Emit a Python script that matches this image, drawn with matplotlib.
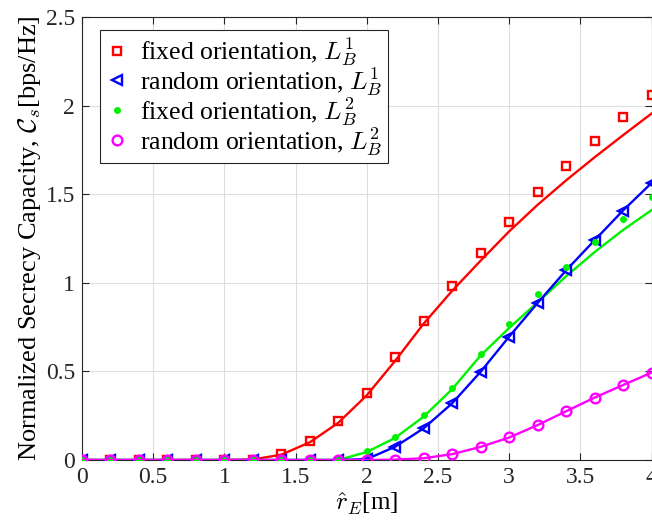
import matplotlib
matplotlib.use("Agg")
import matplotlib.pyplot as plt

# Secrecy capacity vs eavesdropper distance: lines = analysis, markers = simulation

plt.rcParams['font.family'] = ['Liberation Serif', 'DejaVu Serif']
plt.rcParams['mathtext.fontset'] = 'cm'

r_e = [0.0, 0.2, 0.4, 0.6, 0.8, 1.0, 1.2, 1.4, 1.6, 1.8, 2.0,
       2.2, 2.4, 2.6, 2.8, 3.0, 3.2, 3.4, 3.6, 3.8, 4.0]

# fixed orientation, L_B^1
fixed_l1_ana = [0, 0, 0, 0, 0, 0, 0.003, 0.03, 0.10, 0.21, 0.365,
                0.56, 0.77, 0.955, 1.125, 1.29, 1.44, 1.578, 1.708, 1.833, 1.955]
fixed_l1_sim = [0, 0, 0, 0, 0, 0, 0.002, 0.034, 0.107, 0.22, 0.376,
                0.58, 0.786, 0.983, 1.17, 1.345, 1.51, 1.66, 1.80, 1.935, 2.057]

# random orientation, L_B^1
random_l1 = [0, 0, 0, 0, 0, 0, 0, 0, 0, 0, 0.005,
             0.075, 0.179, 0.32, 0.498, 0.696, 0.886, 1.07, 1.24, 1.408, 1.563]

# fixed orientation, L_B^2
fixed_l2_ana = [0, 0, 0, 0, 0, 0, 0, 0, 0, 0, 0.045,
                0.125, 0.245, 0.40, 0.59, 0.745, 0.89, 1.037, 1.173, 1.298, 1.41]
fixed_l2_sim = [0, 0, 0, 0, 0, 0, 0, 0, 0, 0, 0.05,
                0.13, 0.252, 0.408, 0.596, 0.77, 0.935, 1.087, 1.228, 1.36, 1.486]

# random orientation, L_B^2
random_l2 = [0, 0, 0, 0, 0, 0, 0, 0, 0, 0, 0,
             0.002, 0.01, 0.033, 0.074, 0.127, 0.197, 0.275, 0.352, 0.423, 0.493]

xticks = [0, 0.5, 1, 1.5, 2, 2.5, 3, 3.5, 4]
xticklabels = ['0', '0.5', '1', '1.5', '2', '2.5', '3', '3.5', '4']
yticks = [0, 0.5, 1, 1.5, 2, 2.5]
yticklabels = ['0', '0.5', '1', '1.5', '2', '2.5']

fig = plt.figure(figsize=(6.52, 5.24), dpi=100)
ax = fig.add_axes([82/652, 64/524, 569.5/652, 443/524])

lw = 1.7
red = (1, 0, 0)
blue = (0, 0, 1)
green = (0, 0.95, 0)
mag = (1, 0, 1)

ax.plot(r_e, fixed_l1_ana, color=red, lw=lw, zorder=3)
ax.plot(r_e, fixed_l2_ana, color=green, lw=lw, zorder=3)
ax.plot(r_e, random_l1, color=blue, lw=lw, zorder=4)
ax.plot(r_e, random_l2, color=mag, lw=lw, zorder=6)

ax.plot(r_e, fixed_l1_sim, ls='none', marker='s', ms=5.5, mfc='none',
        mec=red, mew=1.7, zorder=5, label=r'fixed orientation, $L_B^1$')
ax.plot(r_e, random_l1, ls='none', marker='<', ms=6.5, mfc='none',
        mec=blue, mew=1.7, zorder=5, label=r'random orientation, $L_B^1$')
ax.plot(r_e, fixed_l2_sim, ls='none', marker='o', ms=5, mfc=green,
        mec=green, mew=0, zorder=5, label=r'fixed orientation, $L_B^2$')
ax.plot(r_e, random_l2, ls='none', marker='o', ms=7, mfc='none',
        mec=mag, mew=1.7, zorder=7, label=r'random orientation, $L_B^2$')

ax.set_xlim(0, 4)
ax.set_ylim(0, 2.5)
ax.set_xticks(xticks)
ax.set_xticklabels(xticklabels)
ax.set_yticks(yticks)
ax.set_yticklabels(yticklabels)
ax.tick_params(direction='in', top=True, right=True, length=5, width=0.8,
               labelsize=17, colors=(0.15, 0.15, 0.15), pad=5)
ax.grid(True, color=(0.87, 0.87, 0.87), lw=0.8)
ax.set_axisbelow(True)
for sp in ax.spines.values():
    sp.set_color((0.15, 0.15, 0.15))
    sp.set_linewidth(0.8)

ax.set_xlabel(r'$\hat{r}_E$[m]', fontsize=18, labelpad=2)
ax.set_ylabel(r'Normalized Secrecy Capacity, $\mathcal{C}_s$[bps/Hz]',
              fontsize=19, labelpad=2)

leg = ax.legend(loc='upper left', bbox_to_anchor=(18/569.5, 1 - 13/443),
                borderaxespad=0, fontsize=18.5,
                fancybox=False, framealpha=1, edgecolor=(0.15, 0.15, 0.15),
                handlelength=0.9, handletextpad=0.45, borderpad=0.2,
                labelspacing=-0.12)
leg.get_frame().set_linewidth(0.8)

fig.savefig('out.png', dpi=100)
